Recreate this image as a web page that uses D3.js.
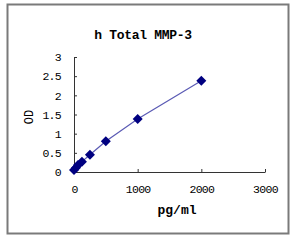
<!DOCTYPE html>
<html>
<head>
<meta charset="utf-8">
<script src="https://cdn.jsdelivr.net/npm/d3@7"></script>
<style>
  body { margin: 0; background: #fff; }
  text { font-family: "Liberation Mono", "DejaVu Sans Mono", monospace; fill: #000; }
</style>
</head>
<body>
<script>
'use strict';

// standard curve: concentration (pg/ml) vs OD
const conc = [0, 31.25, 62.5, 125, 250, 500, 1000, 2000];
const od = [0.05, 0.11, 0.18, 0.27, 0.45, 0.80, 1.38, 2.38];
const xTicks = [0, 1000, 2000, 3000];
const yTicks = [0, 0.5, 1, 1.5, 2, 2.5, 3];
const title = 'h Total MMP-3';
const xLabel = 'pg/ml';
const yLabel = 'OD';

const W = 299, H = 243;

const svg = d3.select('body').append('svg')
  .attr('width', W)
  .attr('height', H);

// outer frame
svg.append('rect')
  .attr('x', 7.5).attr('y', 4.5)
  .attr('width', 281).attr('height', 229)
  .attr('fill', 'none')
  .attr('stroke', '#7a7a7a')
  .attr('stroke-width', 2);

const x = d3.scaleLinear().domain([0, 3000]).range([74, 265]);
const y = d3.scaleLinear().domain([0, 3]).range([172, 57]);

// axes, ticks pointing inward
const xAxis = svg.append('g')
  .attr('transform', `translate(0,${y(0)})`)
  .call(d3.axisBottom(x).tickValues(xTicks).tickSizeInner(-3).tickSizeOuter(0).tickPadding(14)
    .tickFormat(d3.format('')));
const yAxis = svg.append('g')
  .attr('transform', `translate(${x(0)},0)`)
  .call(d3.axisLeft(y).tickValues(yTicks).tickSizeInner(-3).tickSizeOuter(0).tickPadding(13)
    .tickFormat(d3.format('')));

[xAxis, yAxis].forEach(a => {
  a.select('.domain').attr('stroke', '#333');
  a.selectAll('.tick line').attr('stroke', '#333');
  a.selectAll('.tick text')
    .style('font-size', '11.5px')
    .attr('letter-spacing', '-0.7');
});
xAxis.selectAll('.tick text').attr('dy', '0.6em');

// series line
const pts = conc.map((c, i) => [c, od[i]]);
svg.append('path')
  .datum(pts)
  .attr('fill', 'none')
  .attr('stroke', '#5a5ab4')
  .attr('stroke-width', 1.2)
  .attr('d', d3.line().x(d => x(d[0])).y(d => y(d[1])));

// diamond markers
svg.append('g').selectAll('path')
  .data(pts)
  .enter()
  .append('path')
  .attr('transform', d => `translate(${x(d[0])},${y(d[1])})`)
  .attr('d', 'M0,-5L5,0L0,5L-5,0Z')
  .attr('fill', '#000080');

svg.append('text')
  .attr('x', 143).attr('y', 39)
  .attr('text-anchor', 'middle')
  .style('font-size', '13px')
  .style('font-weight', 'bold')
  .attr('letter-spacing', '-0.3')
  .text(title);

svg.append('text')
  .attr('x', 177).attr('y', 214)
  .attr('text-anchor', 'middle')
  .style('font-size', '13px')
  .style('font-weight', 'bold')
  .text(xLabel);

svg.append('text')
  .attr('transform', 'translate(33,117) rotate(-90)')
  .attr('text-anchor', 'middle')
  .style('font-size', '12px')
  .text(yLabel);
</script>
</body>
</html>
